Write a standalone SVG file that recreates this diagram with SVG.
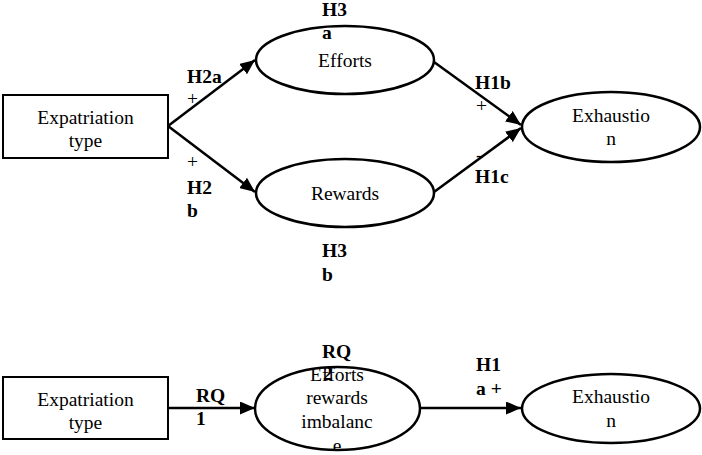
<svg xmlns="http://www.w3.org/2000/svg" width="702" height="455" viewBox="0 0 702 455">
  <style>
    .node { fill: #fff; stroke: #000; stroke-width: 2.5; }
    .box { fill: #fff; stroke: #000; stroke-width: 2; }
    text { font-family: "Liberation Serif", "DejaVu Serif", "Noto Serif", serif; font-size: 19.5px; fill: #000; }
    .t { text-anchor: middle; }
    .lbl { font-weight: bold; }
    .edge { stroke: #000; stroke-width: 2.5; fill: none; marker-end: url(#arrow); }
  </style>
  <defs>
    <marker id="arrow" viewBox="0 0 15 13" refX="15" refY="6.5" markerWidth="15" markerHeight="13" orient="auto" markerUnits="userSpaceOnUse">
      <path d="M0,0 L15,6.5 L0,13 Z" fill="#000"/>
    </marker>
    <clipPath id="clipE">
      <rect x="0" y="0" width="702" height="449"/>
    </clipPath>
  </defs>
  <rect width="702" height="455" fill="#fff"/>

  <g id="connectors">
    <line class="edge" x1="168" y1="126" x2="255" y2="60"/>
    <line class="edge" x1="168" y1="126" x2="255" y2="192"/>
    <line class="edge" x1="434" y1="62" x2="521" y2="125"/>
    <line class="edge" x1="434" y1="192" x2="521" y2="128"/>
    <line class="edge" x1="168" y1="408" x2="255" y2="408"/>
    <line class="edge" x1="420" y1="408" x2="521" y2="408"/>
  </g>

  <g id="expatriation-top">
    <rect class="box" x="3" y="95" width="165" height="63"/>
    <text class="t" x="85.5" y="124">Expatriation</text>
    <text class="t" x="85.5" y="147">type</text>
  </g>
  <g id="efforts">
    <ellipse class="node" cx="345" cy="60" rx="89" ry="34"/>
    <text class="t" x="345" y="67">Efforts</text>
  </g>
  <g id="rewards">
    <ellipse class="node" cx="345" cy="193" rx="89" ry="34"/>
    <text class="t" x="345" y="200">Rewards</text>
  </g>
  <g id="exhaustion-top">
    <ellipse class="node" cx="611" cy="127" rx="89" ry="35"/>
    <text class="t" x="611" y="122">Exhaustio</text>
    <text class="t" x="611" y="145">n</text>
  </g>

  <g id="expatriation-bottom">
    <rect class="box" x="3" y="377" width="165" height="62"/>
    <text class="t" x="85.5" y="406">Expatriation</text>
    <text class="t" x="85.5" y="429">type</text>
  </g>
  <g id="imbalance">
    <ellipse class="node" cx="337.5" cy="408.5" rx="82.5" ry="41.5"/>
    <text class="t" x="337" y="381">Efforts</text>
    <text class="t" x="337" y="404">rewards</text>
    <text class="t" x="337" y="428">imbalanc</text>
    <text class="t" x="337" y="452" clip-path="url(#clipE)">e</text>
  </g>
  <g id="exhaustion-bottom">
    <ellipse class="node" cx="611" cy="408.5" rx="89" ry="34.5"/>
    <text class="t" x="611" y="403">Exhaustio</text>
    <text class="t" x="611" y="427">n</text>
  </g>

  <g id="labels">
    <text class="lbl" x="322" y="16">H3</text>
    <text class="lbl" x="322" y="39">a</text>
    <text class="lbl" x="187" y="83">H2a</text>
    <text x="187" y="105">+</text>
    <text x="187" y="168">+</text>
    <text class="lbl" x="187" y="194">H2</text>
    <text class="lbl" x="187" y="217">b</text>
    <text class="lbl" x="475" y="89">H1b</text>
    <text x="476" y="112">+</text>
    <text x="476" y="161">-</text>
    <text class="lbl" x="475" y="183">H1c</text>
    <text class="lbl" x="322" y="257">H3</text>
    <text class="lbl" x="322" y="281">b</text>
    <text class="lbl" x="196" y="402">RQ</text>
    <text class="lbl" x="196" y="425">1</text>
    <text class="lbl" x="322" y="358">RQ</text>
    <text class="lbl" x="323" y="380">2</text>
    <text class="lbl" x="476" y="371">H1</text>
    <text class="lbl" x="476" y="395">a +</text>
  </g>
</svg>
